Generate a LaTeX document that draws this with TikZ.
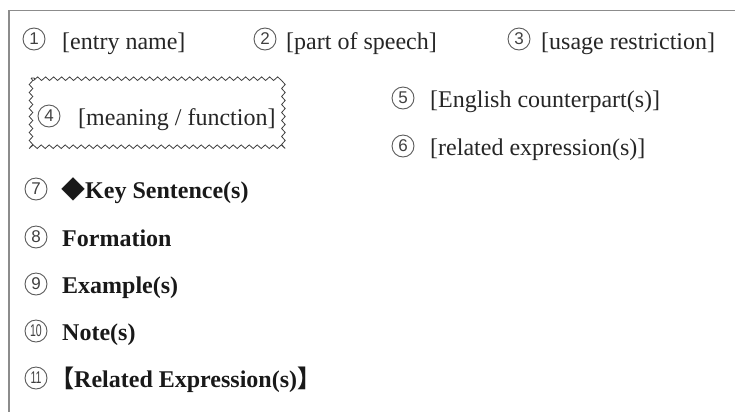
\documentclass[tikz,border=0pt]{standalone}
\usepackage{fontspec}
\setmainfont{Liberation Serif}
\newfontfamily\cjkf{Noto Sans CJK JP}
\newfontfamily\digf{Liberation Sans}
\usetikzlibrary{decorations.pathmorphing}
\begin{document}
\begin{tikzpicture}[x=1pt,y=-1pt,
  lbl/.style={anchor=base west, inner sep=0pt, font=\fontsize{24}{28}\selectfont, text=black!85},
  blbl/.style={anchor=base west, inner sep=0pt, font=\fontsize{24}{28}\selectfont\bfseries, text=black!90},
  num/.style={circle, draw=black!65, line width=0.9pt, minimum size=22pt, inner sep=0pt, font=\digf\fontsize{17}{17}\selectfont, text=black!75},
  frameline/.style={draw=black!45, line width=1.5pt},
  wavy/.style={draw=black!75, line width=0.8pt, decorate, decoration={snake, segment length=8pt, amplitude=1.8pt}}]
\useasboundingbox (0,0) rectangle (735,416);
% frame
\coordinate (fTR) at (735,10.5);
\coordinate (fTL) at (9,10.5);
\coordinate (fBL) at (9,412);
\draw[frameline] (fTR) -- (fTL) -- (fBL);
% row 1
\node[num] (n1) at (34,39) {1};
\node[lbl] (t1) at (62,49) {[entry name]};
\node[num] (n2) at (265,39) {2};
\node[lbl] (t2) at (286,49) {[part of speech]};
\node[num] (n3) at (519,39) {3};
\node[lbl] (t3) at (541,49) {[usage restriction]};
% wavy box
\coordinate (wTL) at (31,78);
\coordinate (wBR) at (286,147);
\draw[wavy] (wTL) rectangle (wBR);
\node[num] (n4) at (49,116) {4};
\node[lbl] (t4) at (78,125) {[meaning / function]};
% right column
\node[num] (n5) at (403,98) {5};
\node[lbl] (t5) at (430,107) {[English counterpart(s)]};
\node[num] (n6) at (403,146) {6};
\node[lbl] (t6) at (430,155) {[related expression(s)]};
% left column
\node[num] (n7) at (36,189) {7};
\node[blbl] (t7) at (61,198) {{\cjkf ◆}Key Sentence(s)};
\node[num] (n8) at (36,237) {8};
\node[blbl] (t8) at (62,246) {Formation};
\node[num] (n9) at (36,284) {9};
\node[blbl] (t9) at (62,293) {Example(s)};
\node[num] (n10) at (36,331) {\scalebox{0.62}[1]{10}};
\node[blbl] (t10) at (62,340) {Note(s)};
\node[num] (n11) at (36,378) {\scalebox{0.62}[1]{11}};
\node[blbl] (t11) at (50,387) {{\cjkf 【}Related Expression(s){\cjkf 】}};
\end{tikzpicture}
\end{document}
